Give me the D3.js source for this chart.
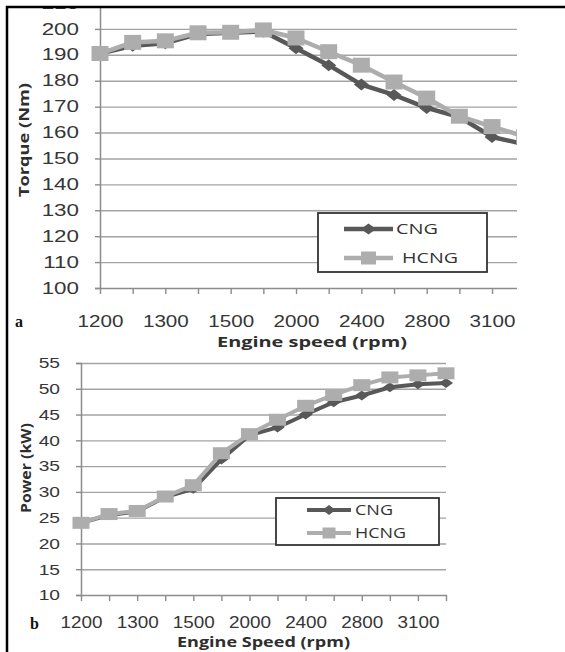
<!DOCTYPE html>
<html>
<head>
<meta charset="utf-8">
<script src="https://cdn.jsdelivr.net/npm/d3@7"></script>
<style>
  body { margin: 0; background: #fff; }
  svg { display: block; font-family: "Open Sans", sans-serif; }
</style>
</head>
<body>
<svg width="565" height="652"></svg>
<script>
// engine speeds (rpm) - only every other one is labelled on the axis
const speeds = ['1200', '1250', '1300', '1400', '1500', '1750', '2000', '2200', '2400', '2600', '2800', '3000', '3100', '3200'];
const speedLabels = ['1200', '1300', '1500', '2000', '2400', '2800', '3100'];

const torqueCNG = [190.5, 193.5, 194.5, 198, 198.5, 199, 192.5, 186, 178.5, 174.5, 169.5, 166, 158.3, 155.5];
const torqueHCNG = [190.5, 194.8, 195.4, 198.5, 198.7, 199.6, 196.5, 191.2, 186, 179.5, 173.3, 166.3, 162.3, 158.5];

const powerCNG = [24, 25.5, 26.2, 29, 30.6, 36.3, 41, 42.5, 45, 47.4, 48.7, 50.3, 50.9, 51.1];
const powerHCNG = [24, 25.7, 26.3, 29.1, 31.3, 37.5, 41.2, 44, 46.7, 48.8, 50.7, 52.2, 52.6, 53];

const torqueTicks = d3.range(100, 211, 10);
const powerTicks = d3.range(10, 56, 5);

const seriesNames = ['CNG', 'HCNG'];
const seriesColor = { CNG: '#585858', HCNG: '#adadad' };
const seriesMarker = { CNG: 'diamond', HCNG: 'square' };

const svg = d3.select('svg');

function markerPath(type, w, h) {
  if (type === 'diamond') return `M0,${-h / 2}L${w / 2},0L0,${h / 2}L${-w / 2},0Z`;
  return `M${-w / 2},${-h / 2}h${w}v${h}h${-w}Z`;
}

function drawPanel(o) {
  const g = svg.append('g');
  if (o.clip) {
    svg.append('clipPath').attr('id', 'clip-' + o.id)
      .append('rect').attr('x', 0).attr('y', o.clip.top).attr('width', o.clip.right).attr('height', 652);
    g.attr('clip-path', `url(#clip-${o.id})`);
  }

  const x = d3.scalePoint().domain(speeds).range([o.left, o.right]);
  const y = d3.scaleLinear().domain(o.yDomain).range([o.bottom, o.top]);
  const gridRight = o.clip ? o.clip.right : o.right;

  // horizontal gridlines
  g.append('g')
    .attr('transform', `translate(${o.left},0)`)
    .call(d3.axisLeft(y).tickValues(o.ticks.slice(1)).tickSize(-(gridRight - o.left)).tickFormat(''))
    .call(a => a.select('.domain').remove())
    .selectAll('line').attr('stroke', '#a3a3a3').attr('stroke-width', 1.4);

  // y axis
  const ya = g.append('g')
    .attr('transform', `translate(${o.left},0)`)
    .call(d3.axisLeft(y).tickValues(o.ticks).tickSize(5).tickFormat(d3.format('d')));
  ya.select('.domain').attr('stroke', '#8c8c8c').attr('stroke-width', 1.5);
  ya.selectAll('line').attr('stroke', '#8c8c8c').attr('stroke-width', 1.4);
  ya.selectAll('text')
    .attr('font-size', o.yFont).attr('fill', '#363636').attr('font-family', null)
    .attr('x', -o.yGap / o.ySx).attr('transform', `scale(${o.ySx},1)`);

  // x axis
  const xa = g.append('g')
    .attr('transform', `translate(0,${o.bottom})`)
    .call(d3.axisBottom(x).tickSize(6).tickSizeOuter(0).tickFormat(d => speedLabels.includes(d) ? d : ''));
  xa.select('.domain').attr('stroke', '#8c8c8c').attr('stroke-width', 1.5);
  xa.selectAll('line').attr('stroke', '#8c8c8c').attr('stroke-width', 1.4);
  xa.selectAll('text')
    .attr('font-size', o.xFont).attr('fill', '#363636').attr('font-family', null)
    .attr('y', o.xBase).attr('dy', 0).attr('transform', `scale(${o.xSx},1)`);

  // series
  const line = d3.line().x((d, i) => x(speeds[i])).y(d => y(d));
  seriesNames.forEach(name => {
    const vals = o.data[name];
    g.append('path').datum(vals)
      .attr('fill', 'none').attr('stroke', seriesColor[name])
      .attr('stroke-width', o.lineW).attr('stroke-linejoin', 'round')
      .attr('d', line);
    const sz = o.marker[name];
    g.selectAll(null).data(vals).enter().append('path')
      .attr('transform', (d, i) => `translate(${x(speeds[i])},${y(d)})`)
      .attr('d', markerPath(seriesMarker[name], sz[0], sz[1]))
      .attr('fill', seriesColor[name]);
  });

  // axis titles
  svg.append('text')
    .attr('transform', `translate(${o.yTitle.x},${o.yTitle.y}) rotate(-90)`)
    .attr('text-anchor', 'middle').attr('dy', '0.35em')
    .attr('font-size', o.yTitle.size).attr('font-weight', 700).attr('fill', '#2e2e2e')
    .attr('textLength', o.yTitle.len).attr('lengthAdjust', 'spacingAndGlyphs')
    .text(o.yTitle.text);
  svg.append('text')
    .attr('x', o.xTitle.x).attr('y', o.xTitle.y)
    .attr('font-size', o.xTitle.size).attr('font-weight', 700).attr('fill', '#2e2e2e')
    .attr('textLength', o.xTitle.len).attr('lengthAdjust', 'spacingAndGlyphs')
    .text(o.xTitle.text);

  // legend
  const L = o.legend;
  svg.append('rect')
    .attr('x', L.x).attr('y', L.y).attr('width', L.w).attr('height', L.h)
    .attr('fill', '#fff').attr('stroke', '#333').attr('stroke-width', 1.8);
  const items = svg.selectAll(null).data(seriesNames).enter().append('g')
    .attr('transform', (d, i) => `translate(0,${L.rows[i]})`);
  items.append('line')
    .attr('x1', L.lx1).attr('x2', L.lx2)
    .attr('stroke', d => seriesColor[d]).attr('stroke-width', o.lineW);
  items.append('path')
    .attr('transform', `translate(${(L.lx1 + L.lx2) / 2},0)`)
    .attr('d', d => markerPath(seriesMarker[d], L.marker[d][0], L.marker[d][1]))
    .attr('fill', d => seriesColor[d]);
  items.append('text')
    .attr('x', (d, i) => L.tx[i]).attr('dy', '0.36em')
    .attr('font-size', L.size).attr('fill', '#333')
    .attr('textLength', (d, i) => L.tlen[i]).attr('lengthAdjust', 'spacingAndGlyphs')
    .text(d => d);

  // panel letter
  svg.append('text')
    .attr('x', o.letter.x).attr('y', o.letter.y)
    .attr('font-family', '"Liberation Serif", serif').attr('font-weight', 700)
    .attr('font-size', 16).attr('fill', '#111')
    .text(o.id);
}

drawPanel({
  id: 'a',
  data: { CNG: torqueCNG, HCNG: torqueHCNG },
  yDomain: [100, 210], ticks: torqueTicks,
  left: 100, right: 524.7, bottom: 288, top: 3,
  clip: { top: 8, right: 517 },
  yFont: 16, ySx: 1.4, yGap: 21,
  xFont: 16.5, xSx: 1.25, xBase: 39,
  lineW: 4.5,
  marker: { CNG: [15, 12], HCNG: [17, 15] },
  yTitle: { text: 'Torque (Nm)', x: 24, y: 140, size: 15, len: 114 },
  xTitle: { text: 'Engine speed (rpm)', x: 217, y: 347, size: 15, len: 190 },
  legend: {
    x: 318, y: 213, w: 169, h: 59, rows: [229, 258],
    lx1: 344, lx2: 393, tx: [396, 402], tlen: [42, 56], size: 15,
    marker: { CNG: [15, 11], HCNG: [15, 13] }
  },
  letter: { x: 15, y: 327 }
});

drawPanel({
  id: 'b',
  data: { CNG: powerCNG, HCNG: powerHCNG },
  yDomain: [10, 55], ticks: powerTicks,
  left: 81, right: 446, bottom: 595, top: 363,
  yFont: 15, ySx: 1.28, yGap: 21,
  xFont: 16, xSx: 1.18, xBase: 33,
  lineW: 4,
  marker: { CNG: [14, 10], HCNG: [17, 12] },
  yTitle: { text: 'Power (kW)', x: 26, y: 468, size: 15, len: 90 },
  xTitle: { text: 'Engine Speed (rpm)', x: 177, y: 647, size: 15, len: 173 },
  legend: {
    x: 276, y: 498, w: 163, h: 47, rows: [510, 533],
    lx1: 307, lx2: 351, tx: [355, 355], tlen: [38, 51], size: 15,
    marker: { CNG: [13, 10], HCNG: [13, 11] }
  },
  letter: { x: 30, y: 629 }
});

// outer frame
svg.append('rect').attr('x', 0).attr('y', 0).attr('width', 565).attr('height', 6).attr('fill', '#fff');
svg.append('path')
  .attr('d', 'M7,652V7H565')
  .attr('fill', 'none').attr('stroke', '#000').attr('stroke-width', 2.5);
</script>
</body>
</html>
